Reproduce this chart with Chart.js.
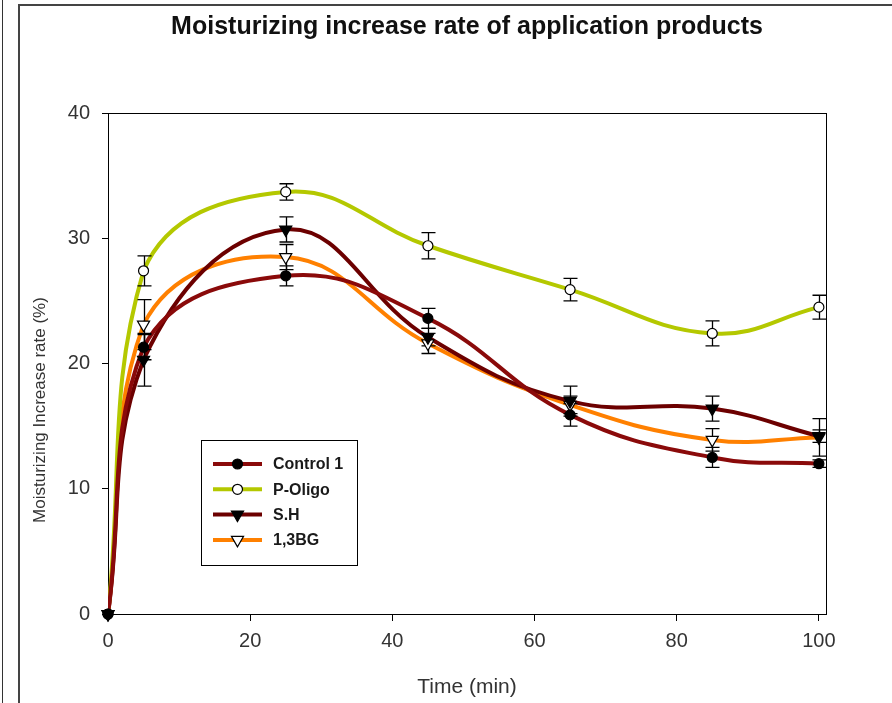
<!DOCTYPE html>
<html>
<head>
<meta charset="utf-8">
<script src="https://cdn.jsdelivr.net/npm/chart.js@4.4.1/dist/chart.umd.min.js"></script>
<style>
  html, body { margin: 0; padding: 0; background: #fff; }
  #wrap { position: relative; width: 892px; height: 703px; overflow: hidden; }
  .edge1 { position: absolute; left: 2px; top: 0; width: 1px; height: 703px; background: #333; }
  .edge2 { position: absolute; left: 18px; top: 4px; right: -10px; height: 703px;
           border-left: 2px solid #444; border-top: 2px solid #444; }
  canvas { position: absolute; left: 0; top: 0; }
</style>
</head>
<body>
<div id="wrap">
  <div class="edge1"></div>
  <div class="edge2"></div>
  <canvas id="c" width="892" height="703"></canvas>
</div>
<script>
// time points (min)
var times = [0, 5, 25, 45, 65, 85, 100];
var xTicks = [0, 20, 40, 60, 80, 100];

// series
var control1    = [0, 21.3, 27.0, 23.6, 15.9, 12.5, 12.0];
var control1Err = [0, 1.0, 0.8, 0.8, 0.9, 0.8, 0.3];
var pOligo      = [0, 27.4, 33.7, 29.4, 25.9, 22.4, 24.5];
var pOligoErr   = [0, 1.2, 0.65, 1.05, 0.9, 1.0, 0.95];
var sh          = [0, 20.3, 30.7, 22.1, 17.0, 16.4, 14.2];
var shErr       = [0, 2.1, 1.0, 0.7, 1.2, 1.0, 0.5];
var bg13        = [0, 23.1, 28.5, 21.6, 16.7, 13.9, 14.1];
var bg13Err     = [0, 2.0, 1.0, 0.8, 0.7, 0.9, 1.5];

var series = [
  { label: 'Control 1', values: control1, err: control1Err, color: '#8a0a0a', style: 'circle',   fill: '#000', radius: 5, rot: 0 },
  { label: 'P-Oligo',   values: pOligo,   err: pOligoErr,   color: '#b4c800', style: 'circle',   fill: '#fff', radius: 5, rot: 0 },
  { label: 'S.H',       values: sh,       err: shErr,       color: '#6c0000', style: 'triangle', fill: '#000', radius: 7, rot: 180 },
  { label: '1,3BG',     values: bg13,     err: bg13Err,     color: '#ff8000', style: 'triangle', fill: '#fff', radius: 7, rot: 180 }
];

function pts(vals) {
  return times.map(function (t, i) { return { x: t, y: vals[i] }; });
}

var datasets = [];
series.forEach(function (s) {
  datasets.push({
    label: s.label, data: pts(s.values), order: 3,
    borderColor: s.color, borderWidth: 4, tension: 0.42,
    pointRadius: 0, fill: false
  });
});
series.forEach(function (s) {
  datasets.push({
    label: s.label + ' pts', data: pts(s.values), order: 1,
    showLine: false, clip: false,
    pointStyle: s.style, pointRadius: s.radius, pointRotation: s.rot,
    pointBackgroundColor: s.fill, pointBorderColor: '#000', pointBorderWidth: 1.2
  });
});

var FONT = '"Liberation Sans", Arial, sans-serif';

var framePlugin = {
  id: 'frame',
  beforeDatasetsDraw: function (chart) {
    var a = chart.chartArea, ctx = chart.ctx;
    ctx.save();
    ctx.strokeStyle = '#000';
    ctx.lineWidth = 1;
    ctx.strokeRect(Math.round(a.left) + 0.5, Math.round(a.top) + 0.5,
                   Math.round(a.right - a.left), Math.round(a.bottom - a.top));
    ctx.restore();
  }
};

// error bars go between lines and markers
var errPlugin = {
  id: 'errbars',
  beforeDatasetDraw: function (chart, args) {
    if (args.index !== series.length * 2 - 1) return;
    var xs = chart.scales.x, ys = chart.scales.y, ctx = chart.ctx;
    ctx.save();
    ctx.strokeStyle = '#000';
    ctx.lineWidth = 1.3;
    series.forEach(function (s) {
      s.values.forEach(function (v, i) {
        var e = s.err[i];
        if (!e) return;
        var x = Math.round(xs.getPixelForValue(times[i])) + 0.5;
        var y1 = ys.getPixelForValue(v + e), y2 = ys.getPixelForValue(v - e);
        ctx.beginPath();
        ctx.moveTo(x, y1); ctx.lineTo(x, y2);
        ctx.moveTo(x - 7, y1); ctx.lineTo(x + 7, y1);
        ctx.moveTo(x - 7, y2); ctx.lineTo(x + 7, y2);
        ctx.stroke();
      });
    });
    ctx.restore();
  }
};

var legendPlugin = {
  id: 'boxlegend',
  afterDraw: function (chart) {
    var ctx = chart.ctx;
    ctx.save();
    ctx.strokeStyle = '#000';
    ctx.lineWidth = 1;
    ctx.strokeRect(201.5, 440.5, 156, 125);
    series.forEach(function (s, i) {
      var y = 464 + i * 25.3;
      ctx.strokeStyle = s.color;
      ctx.lineWidth = 4;
      ctx.beginPath(); ctx.moveTo(213, y); ctx.lineTo(262, y); ctx.stroke();
      ctx.fillStyle = s.fill;
      ctx.strokeStyle = '#000';
      ctx.lineWidth = 1.2;
      Chart.helpers.drawPoint(ctx, { pointStyle: s.style, radius: s.radius, rotation: s.rot, borderWidth: 1.2 }, 237.5, y);
      ctx.fillStyle = '#1a1a1a';
      ctx.font = 'bold 16px ' + FONT;
      ctx.textBaseline = 'middle';
      ctx.textAlign = 'left';
      ctx.fillText(s.label, 273, y + 1);
    });
    ctx.restore();
  }
};

var textPlugin = {
  id: 'texts',
  afterDraw: function (chart) {
    var ctx = chart.ctx, a = chart.chartArea;
    ctx.save();
    ctx.fillStyle = '#111';
    ctx.font = 'bold 25px ' + FONT;
    ctx.textAlign = 'center';
    ctx.textBaseline = 'middle';
    ctx.fillText('Moisturizing increase rate of application products', (a.left + a.right) / 2, 27);
    ctx.fillStyle = '#333';
    ctx.font = '17px ' + FONT;
    ctx.translate(40, 410);
    ctx.rotate(-Math.PI / 2);
    ctx.fillText('Moisturizing Increase rate (%)', 0, 0);
    ctx.restore();
  }
};

new Chart(document.getElementById('c'), {
  type: 'line',
  data: { datasets: datasets },
  options: {
    responsive: false,
    animation: false,
    layout: { padding: { top: 113, right: 66, left: 0, bottom: 0 } },
    plugins: { legend: { display: false }, tooltip: { enabled: false }, title: { display: false } },
    scales: {
      x: {
        type: 'linear', min: 0, max: 101,
        afterFit: function (s) { s.height = 89; },
        afterBuildTicks: function (s) { s.ticks = xTicks.map(function (v) { return { value: v }; }); },
        grid: { drawOnChartArea: false, color: '#000', tickLength: 7, tickWidth: 1 },
        border: { display: true, color: '#000', width: 1 },
        ticks: { color: '#333', font: { family: FONT, size: 20 }, padding: 8, maxRotation: 0 },
        title: { display: true, text: 'Time (min)', color: '#333', font: { family: FONT, size: 21 }, padding: { top: 0, bottom: 3 } }
      },
      y: {
        min: 0, max: 40,
        afterFit: function (s) { s.width = 108; },
        grid: { drawOnChartArea: false, color: '#000', tickLength: 6, tickWidth: 1 },
        border: { display: true, color: '#000', width: 1 },
        ticks: { stepSize: 10, color: '#333', font: { family: FONT, size: 20 }, padding: 12 }
      }
    }
  },
  plugins: [framePlugin, errPlugin, legendPlugin, textPlugin]
});
</script>
</body>
</html>
